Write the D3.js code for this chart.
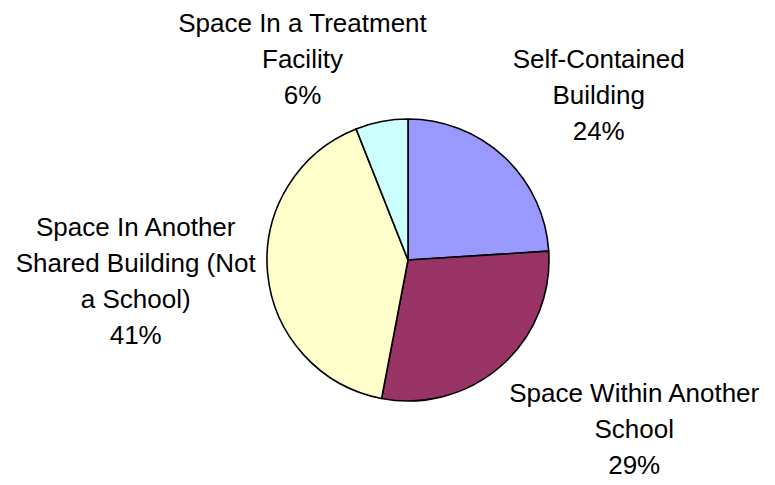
<!DOCTYPE html>
<html>
<head>
<meta charset="utf-8">
<script src="https://cdn.jsdelivr.net/npm/d3@7"></script>
<style>
  body { margin:0; background:#fff; }
  text { font-family: "Liberation Sans", Arial, sans-serif; }
</style>
</head>
<body>
<svg id="canvas" width="775" height="485"></svg>
<script>
categories=["Self-Contained Building","Space Within Another School","Space In Another Shared Building (Not a School)","Space In a Treatment Facility"];
shares=[24,29,41,6];
colors=["#9999FF","#993366","#FFFFCC","#CCFFFF"];

CX=408; CY=260; RADIUS=141;
FONT_SIZE=26; LINE_H=36; WRAP_W=256;
LABEL_R=153;
// small manual label shifts, like the hand-placed excel labels
labelNudge=[1,0,-16,3];

window.onload=function(){
    svg=d3.select("#canvas");
    var g=svg.append("g").attr("transform","translate("+CX+","+CY+")");

    var pie=d3.pie().sort(null).value(function(d){return d});
    var arcs=pie(shares);
    var arc=d3.arc().innerRadius(0).outerRadius(RADIUS);

    g.selectAll("path.slice")
      .data(arcs)
      .enter()
      .append("path")
      .attr("class","slice")
      .attr("d",arc)
      .attr("fill",function(d,i){return colors[i]})
      .attr("stroke","#000")
      .attr("stroke-width",1.6)
      .attr("stroke-linejoin","round");

    arcs.forEach(function(a,i){
        var lines=wrap(categories[i]);
        lines.push(Math.round(shares[i])+"%");
        var mid=(a.startAngle+a.endAngle)/2;
        var dx=Math.sin(mid), dy=-Math.cos(mid);
        var px=dx*LABEL_R, py=dy*LABEL_R;
        var t=g.append("text")
          .attr("text-anchor","middle")
          .attr("font-size",FONT_SIZE+"px")
          .attr("fill","#000");
        var w=0;
        lines.forEach(function(l){ w=Math.max(w,measure(l)) });
        var h=lines.length*LINE_H;
        var fx=Math.max(-1,Math.min(1,dx*3.3));
        var fy=Math.max(-1,Math.min(1,dy*3.3));
        var cx=px+fx*w/2, cy=py+fy*h/2+labelNudge[i];
        lines.forEach(function(l,k){
            t.append("tspan")
              .attr("x",cx)
              .attr("y",cy+(k-(lines.length-1)/2)*LINE_H+9)
              .text(l);
        });
    });
}

function measure(str){
    var tmp=svg.append("text").attr("font-size",FONT_SIZE+"px").text(str);
    var len=tmp.node().getComputedTextLength();
    tmp.remove();
    return len;
}

function wrap(str){
    var words=str.split(" "), out=[], cur="";
    words.forEach(function(wd){
        var test=cur?cur+" "+wd:wd;
        if(cur && measure(test)>WRAP_W){ out.push(cur); cur=wd; }
        else cur=test;
    });
    if(cur) out.push(cur);
    return out;
}
</script>
</body>
</html>
